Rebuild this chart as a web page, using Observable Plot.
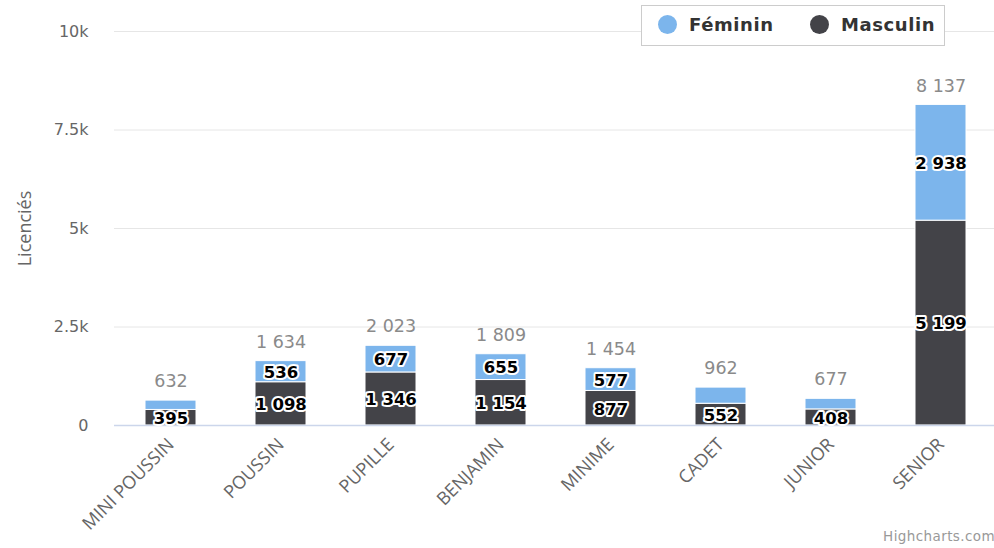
<!DOCTYPE html>
<html>
<head>
<meta charset="utf-8">
<script src="https://cdn.jsdelivr.net/npm/d3@7"></script>
<script src="https://cdn.jsdelivr.net/npm/@observablehq/plot@0.6"></script>
<style>
  html, body { margin: 0; padding: 0; background: #fff; }
  #wrap { position: relative; width: 994px; height: 548px; overflow: hidden; }
  #legend { position: absolute; left: 641px; top: 5px; width: 302px; height: 39px; border: 1px solid #cccccc; background: #fff;
    font-family: "DejaVu Sans", sans-serif; font-weight: bold; font-size: 18px; color: #333; letter-spacing: 0.6px; }
  .item { position: absolute; top: 8px; display: flex; align-items: center; }
  .dot { width: 19px; height: 19px; border-radius: 50%; margin-right: 12px; }
  #credit { position: absolute; right: -1px; top: 528px; font-family: "DejaVu Sans", sans-serif; font-size: 13.5px; color: #999; letter-spacing: 0.4px; }
</style>
</head>
<body>
<div id="wrap">
  <div id="chart"></div>
  <div id="legend"></div>
  <div id="credit">Highcharts.com</div>
</div>
<script>
const categories = ["MINI POUSSIN", "POUSSIN", "PUPILLE", "BENJAMIN", "MINIME", "CADET", "JUNIOR", "SENIOR"];
const masculin = [395, 1098, 1346, 1154, 877, 552, 408, 5199];
const feminin = [237, 536, 677, 655, 577, 410, 269, 2938];
const seriesNames = ["Masculin", "Féminin"];
const seriesColors = ["#434348", "#7cb5ec"];
const yTicks = [0, 2500, 5000, 7500, 10000];

const locale = d3.formatLocale({decimal: ",", thousands: " ", grouping: [3], currency: ["", ""]});
const fmt = locale.format(",d");

const rows = [];
categories.forEach((c, i) => rows.push({cat: c, series: "Masculin", value: masculin[i]}));
categories.forEach((c, i) => rows.push({cat: c, series: "Féminin", value: feminin[i]}));
const totals = categories.map((c, i) => ({cat: c, total: masculin[i] + feminin[i]}));

const chart = Plot.plot({
  width: 994,
  height: 548,
  marginTop: 31,
  marginBottom: 123,
  marginLeft: 114,
  marginRight: 0,
  x: {domain: categories, range: [114, 998], paddingInner: 0.535, paddingOuter: 0.2675, label: null},
  y: {domain: [0, 10000], label: null},
  color: {domain: seriesNames, range: seriesColors},
  style: {fontFamily: "'Open Sans', sans-serif"},
  marks: [
    Plot.ruleY(yTicks.slice(1), {stroke: "#e6e6e6", strokeWidth: 1}),
    Plot.axisY({ticks: yTicks, tickSize: 0, tickPadding: 26, fontSize: 16, color: "#666",
      fontFamily: "'DejaVu Sans', sans-serif",
      tickFormat: d => d === 0 ? "0" : (d / 1000) + "k", label: null}),
    Plot.axisY({ticks: [], label: "Licenciés", labelAnchor: "center", labelOffset: 96, labelArrow: "none",
      fontSize: 18, color: "#666"}),
    Plot.axisX({tickRotate: -45, tickSize: 0, tickPadding: 16, fontSize: 18, color: "#666", letterSpacing: "0.3px"}),
    Plot.barY(rows, Plot.stackY({x: "cat", y: "value", z: "series", fill: "series", stroke: "white", strokeWidth: 1})),
    Plot.ruleY([0], {stroke: "#ccd6eb", strokeWidth: 1.5}),
    Plot.text(rows, Plot.stackY({x: "cat", y: "value", z: "series",
      text: d => (d.series === "Masculin" || d.value >= 500) ? fmt(d.value) : null,
      fill: "#000", stroke: "white", strokeWidth: 4, paintOrder: "stroke",
      fontWeight: "bold", fontSize: 16.5, fontFamily: "'DejaVu Sans', sans-serif", dy: 1})),
    Plot.text(totals, {x: "cat", y: "total", text: d => fmt(d.total), dy: -19,
      fill: "#8a8a8a", fontSize: 17.5, fontFamily: "'DejaVu Sans', sans-serif", letterSpacing: "0.7px"})
  ]
});
document.getElementById("chart").appendChild(chart);

const legend = document.getElementById("legend");
const legendOrder = [["Féminin", seriesColors[1], 16], ["Masculin", seriesColors[0], 168]];
legendOrder.forEach(([name, color, left]) => {
  const it = document.createElement("div");
  it.className = "item";
  it.style.left = left + "px";
  const dot = document.createElement("span");
  dot.className = "dot";
  dot.style.background = color;
  const t = document.createElement("span");
  t.textContent = name;
  it.appendChild(dot);
  it.appendChild(t);
  legend.appendChild(it);
});
</script>
</body>
</html>
